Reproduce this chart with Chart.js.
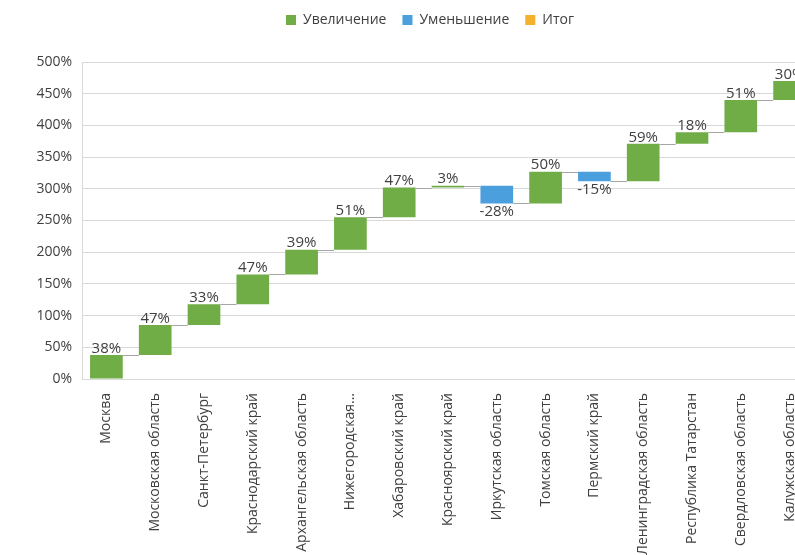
<!DOCTYPE html>
<html lang="ru">
<head>
<meta charset="utf-8">
<script src="https://cdn.jsdelivr.net/npm/chart.js@4.4.1/dist/chart.umd.min.js"></script>
<style>
    html, body { margin: 0; padding: 0; background: #fff; overflow: hidden; }
    #box { width: 860px; height: 555px; position: relative; }
</style>
</head>
<body>
<div id="box"><canvas id="waterfall"></canvas></div>
<script>
// Регионы и прирост, %
const regiones = [
    'Москва', 'Московская область', 'Санкт-Петербург', 'Краснодарский край',
    'Архангельская область', 'Нижегородская...', 'Хабаровский край', 'Красноярский край',
    'Иркутская область', 'Томская область', 'Пермский край', 'Ленинградская область',
    'Республика Татарстан', 'Свердловская область', 'Калужская область'
];
const cambios = [38, 47, 33, 47, 39, 51, 47, 3, -28, 50, -15, 59, 18, 51, 30];
const ticksY = [0, 50, 100, 150, 200, 250, 300, 350, 400, 450, 500];

// acumulado: inicio y fin de cada barra
const inicio = [];
const fin = [];
let acum = 0;
cambios.forEach(v => {
    inicio.push(acum);
    acum += v;
    fin.push(acum);
});

const subidas = cambios.map((v, i) => v >= 0 ? [inicio[i], fin[i]] : null);
const bajadas = cambios.map((v, i) => v < 0 ? [inicio[i], fin[i]] : null);
const totales = cambios.map(() => null);

const VERDE = '#70ad47';
const AZUL = '#4a9fdc';
const NARANJA = '#f4b12e';
const FUENTE = '"Open Sans", sans-serif';

// lineas entre barras + etiquetas de valor
const extras = {
    id: 'extras',
    beforeInit(chart) {
        if (chart.legend) {
            const fitOrig = chart.legend.fit;
            chart.legend.fit = function() {
                fitOrig.bind(chart.legend)();
                this.height += 22;
            };
        }
    },
    afterLayout(chart) {
        // la leyenda va centrada sobre todo el lienzo
        if (chart.legend) {
            chart.legend.left += 23;
            chart.legend.right += 23;
            chart.legend.top -= 3;
            chart.legend.bottom -= 3;
        }
    },
    afterDatasetsDraw(chart) {
        const ctx = chart.ctx;
        const x = chart.scales.x;
        const y = chart.scales.y;
        const paso = x.getPixelForValue(1) - x.getPixelForValue(0);
        const w = paso * 0.67 / 2;
        ctx.save();
        ctx.strokeStyle = '#a6a6a6';
        ctx.lineWidth = 1;
        for (let i = 0; i < cambios.length - 1; i++) {
            const py = Math.round(y.getPixelForValue(fin[i])) + 0.5;
            ctx.beginPath();
            ctx.moveTo(x.getPixelForValue(i) + w, py);
            ctx.lineTo(x.getPixelForValue(i + 1) - w, py);
            ctx.stroke();
        }
        ctx.fillStyle = '#404040';
        ctx.font = '15px ' + FUENTE;
        ctx.textAlign = 'center';
        cambios.forEach((v, i) => {
            const px = x.getPixelForValue(i);
            if (v >= 0) {
                ctx.textBaseline = 'bottom';
                ctx.fillText(v + '%', px, y.getPixelForValue(fin[i]) + 1);
            } else {
                ctx.textBaseline = 'top';
                ctx.fillText(v + '%', px, y.getPixelForValue(fin[i]) + 1);
            }
        });
        ctx.restore();
    }
};

const ctx = document.getElementById('waterfall');
const grafico = new Chart(ctx, {
    type: 'bar',
    data: {
        labels: regiones,
        datasets: [
            { label: 'Увеличение', data: subidas, backgroundColor: VERDE },
            { label: 'Уменьшение', data: bajadas, backgroundColor: AZUL },
            { label: 'Итог', data: totales, backgroundColor: NARANJA }
        ]
    },
    options: {
        responsive: true,
        maintainAspectRatio: false,
        animation: false,
        skipNull: true,
        categoryPercentage: 1,
        barPercentage: 0.67,
        layout: { padding: { left: 0, right: 46, top: 0, bottom: 0 } },
        plugins: {
            legend: {
                position: 'top',
                labels: {
                    boxWidth: 10,
                    boxHeight: 10,
                    padding: 16,
                    color: '#404040',
                    font: { family: FUENTE, size: 14 }
                }
            },
            tooltip: { enabled: false }
        },
        scales: {
            x: {
                grid: { display: false },
                border: { display: false },
                afterFit: function(scale) { scale.height = 176; },
                ticks: {
                    minRotation: 90,
                    maxRotation: 90,
                    autoSkip: false,
                    padding: 6,
                    color: '#404040',
                    font: { family: FUENTE, size: 14 }
                }
            },
            y: {
                min: 0,
                max: 500,
                afterFit: function(scale) { scale.width = 82; },
                afterBuildTicks: function(scale) {
                    scale.ticks = ticksY.map(v => ({ value: v }));
                },
                border: { display: true, color: '#d9d9d9' },
                grid: { color: '#d9d9d9', drawTicks: false },
                ticks: {
                    padding: 10,
                    color: '#404040',
                    font: { family: FUENTE, size: 14 },
                    callback: function(v) { return v + '%'; }
                }
            }
        }
    },
    plugins: [extras]
});
</script>
</body>
</html>
